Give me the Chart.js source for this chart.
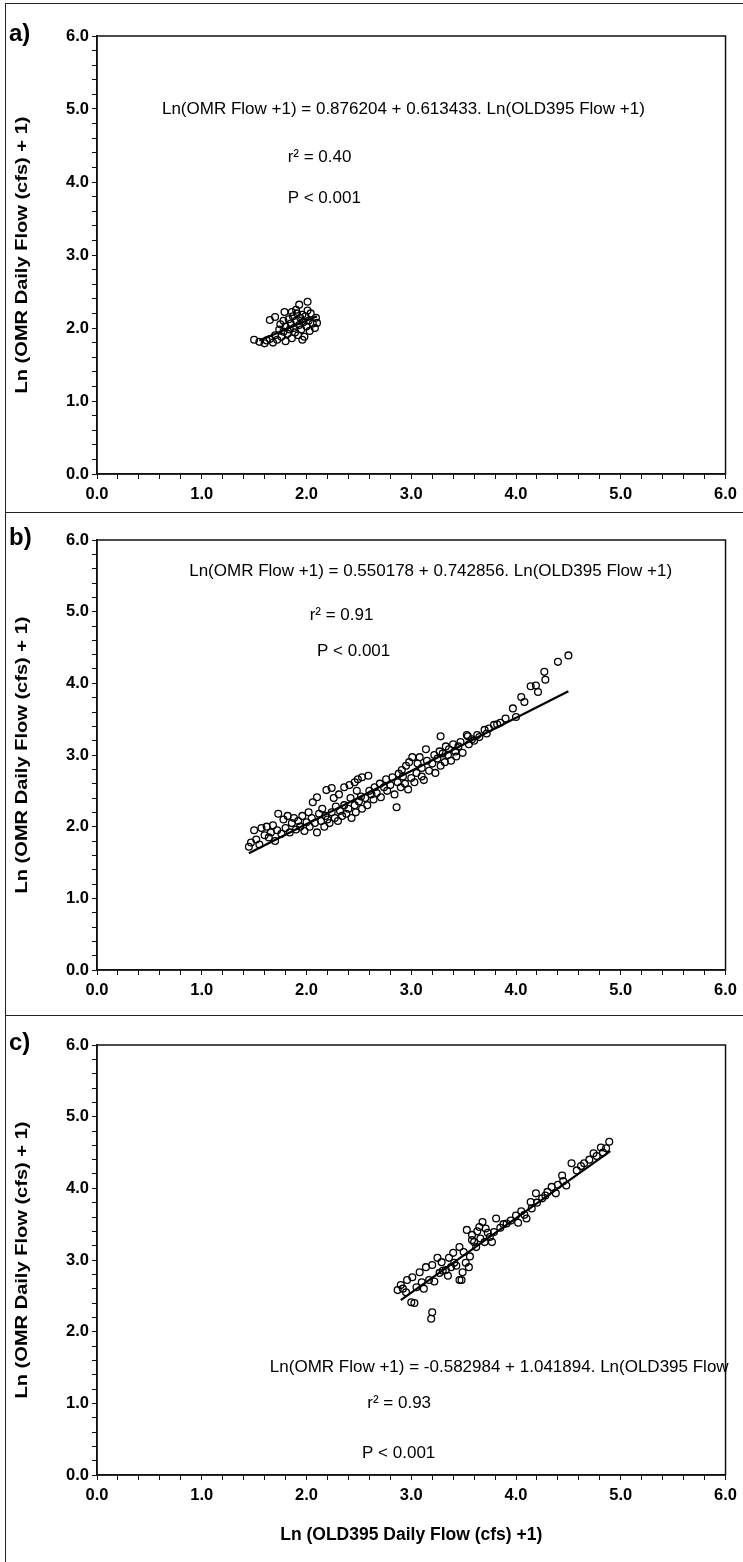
<!DOCTYPE html>
<html>
<head>
<meta charset="utf-8">
<script src="https://cdn.jsdelivr.net/npm/chart.js@4.4.0/dist/chart.umd.min.js"></script>
<style>
  html, body { margin: 0; padding: 0; background: #fff; }
  #wrap { position: relative; width: 743px; height: 1562px; }
  .panel { position: absolute; left: 0; width: 743px; }
  #frame { position: absolute; left: 5px; top: 3px; width: 738px; height: 1559px;
           border-left: 1px solid #222; border-top: 1px solid #222; pointer-events: none; }
  .sep { position: absolute; left: 5px; width: 738px; height: 0; border-top: 1px solid #222; }
</style>
</head>
<body>
<div id="wrap">
  <div class="panel" id="pa" style="top:0; height:512px;"><canvas id="chartA"></canvas></div>
  <div class="panel" id="pb" style="top:512px; height:503px;"><canvas id="chartB"></canvas></div>
  <div class="panel" id="pc" style="top:1015px; height:547px;"><canvas id="chartC"></canvas></div>
  <div id="frame"></div>
  <div class="sep" style="top:512px;"></div>
  <div class="sep" style="top:1015px;"></div>
</div>
<script>
// tick labels (majors only, minors every 0.2 carry no label)
const xTickLabels = ['0.0', '1.0', '2.0', '3.0', '4.0', '5.0', '6.0'];
const yTickLabels = ['0.0', '1.0', '2.0', '3.0', '4.0', '5.0', '6.0'];

// panel a) points  [Ln(OLD395+1), Ln(OMR+1)]
const pointsA = [
  [1.50,1.84],[1.55,1.81],[1.60,1.79],[1.62,1.83],[1.65,1.85],[1.68,1.80],[1.70,1.90],[1.72,1.84],[1.74,1.98],
  [1.75,2.05],[1.76,1.88],[1.78,1.95],[1.78,2.10],[1.80,1.82],[1.80,2.02],[1.82,1.92],[1.83,2.12],
  [1.84,1.98],[1.85,2.06],[1.86,1.86],[1.87,2.16],[1.88,2.00],[1.89,1.94],[1.90,2.10],[1.91,2.20],
  [1.92,1.90],[1.93,2.04],[1.94,2.14],[1.95,1.98],[1.96,2.18],[1.97,2.08],[1.98,1.88],[1.99,2.16],
  [2.00,2.02],[2.01,2.24],[2.02,2.10],[2.03,1.96],[2.06,2.06],[2.08,2.00],[2.10,2.07],[2.09,2.14],
  [1.65,2.11],[1.70,2.15],[1.79,2.22],[1.86,2.22],[1.90,2.25],[1.93,2.32],[2.01,2.36],[1.96,1.84],[2.04,2.20]
];
const fitA = [[1.55,1.83],[2.10,2.16]];

// panel b)
const pointsB = [
  [1.45,1.72],[1.47,1.78],[1.50,1.95],[1.52,1.82],[1.55,1.75],[1.57,1.98],[1.60,1.88],
  [1.62,2.00],[1.64,1.85],[1.66,1.92],[1.68,2.02],[1.70,1.80],[1.72,1.95],[1.73,2.18],[1.76,1.90],[1.78,2.10],[1.80,1.98],
  [1.82,2.15],[1.84,1.92],[1.86,2.05],[1.88,2.12],[1.90,1.96],[1.92,2.08],[1.94,2.00],[1.96,2.15],[1.98,1.94],[2.00,2.06],
  [2.02,2.20],[2.03,2.00],[2.05,2.12],[2.06,2.34],[2.08,2.05],[2.10,2.41],[2.10,1.92],[2.12,2.18],[2.14,2.08],[2.15,2.25],
  [2.17,2.00],[2.18,2.15],[2.19,2.51],[2.20,2.10],[2.24,2.54],
  [2.22,2.05],[2.24,2.20],[2.26,2.40],[2.27,2.12],[2.28,2.28],[2.31,2.45],[2.30,2.08],[2.32,2.22],[2.34,2.15],[2.36,2.55],
  [2.36,2.30],[2.38,2.18],[2.41,2.58],[2.40,2.25],[2.42,2.40],[2.43,2.12],[2.46,2.62],[2.46,2.30],[2.47,2.20],[2.48,2.50],
  [2.49,2.66],[2.50,2.35],[2.52,2.42],[2.53,2.25],[2.53,2.69],
  [2.59,2.71],[2.56,2.40],[2.58,2.30],[2.60,2.50],[2.62,2.45],[2.64,2.38],[2.65,2.55],[2.67,2.47],[2.70,2.60],[2.71,2.41],
  [2.74,2.55],[2.76,2.66],[2.77,2.50],[2.82,2.69],[2.80,2.58],[2.91,2.79],[2.84,2.45],[2.86,2.27],[2.87,2.62],[2.88,2.74],
  [2.90,2.55],[2.92,2.70],[2.94,2.60],[2.95,2.85],[2.97,2.52],[2.98,2.90],[3.00,2.68],
  [3.01,2.97],[3.03,2.62],[3.05,2.75],[3.06,2.88],[3.08,2.97],[3.10,2.70],[3.10,2.82],[3.12,2.65],[3.14,3.08],[3.15,2.92],
  [3.17,2.78],[3.28,3.26],[3.20,2.88],[3.22,3.00],[3.23,2.75],[3.25,2.95],[3.27,3.05],[3.28,2.85],[3.30,3.02],[3.32,2.90],
  [3.33,3.12],[3.35,3.00],[3.36,3.08],[3.38,2.92],[3.40,3.15],[3.42,3.05],[3.43,2.98],[3.45,3.12],[3.47,3.18],[3.49,3.03],
  [3.53,3.28],[3.54,3.26],[3.55,3.15],[3.58,3.22],[3.60,3.20],[3.63,3.28],[3.65,3.25],[3.70,3.35],[3.74,3.37],[3.72,3.30],
  [3.79,3.42],[3.82,3.43],[3.85,3.45],[3.90,3.51],[3.97,3.65],[4.00,3.53],
  [4.05,3.81],[4.08,3.74],[4.14,3.96],[4.19,3.97],[4.21,3.88],[4.27,4.16],[4.28,4.05],[4.40,4.30],[4.50,4.39]
];
const fitB = [[1.45,1.63],[4.50,3.89]];

// panel c)
const pointsC = [
  [4.89,4.65],[4.81,4.57],[4.86,4.56],[4.74,4.49],[4.77,4.45],[4.53,4.35],[4.62,4.31],[4.44,4.18],[4.48,4.04],[4.34,4.02],
  [4.38,3.93],[4.19,3.93],[4.25,3.86],[4.14,3.81],[4.10,3.58],[4.08,3.63],[4.15,3.72],[3.91,3.51],[3.81,3.58],[3.79,3.39],
  [3.68,3.53],[3.65,3.46],[3.71,3.44],[3.53,3.42],[3.58,3.28],[3.77,3.25],[3.46,3.18],[3.50,3.11],[3.62,3.18],[3.52,2.96],
  [3.55,2.90],[3.48,2.72],[3.36,3.03],[3.29,2.97],[3.41,2.96],[3.25,3.03],[3.20,2.93],[3.14,2.90],[3.08,2.83],[3.01,2.76],
  [2.96,2.72],[2.90,2.65],[2.87,2.58],[3.10,2.69],[3.17,2.72],[3.27,2.82],[3.00,2.41],[3.03,2.40],[3.20,2.27],[3.19,2.18],
  [3.33,2.86],[3.38,2.90],[3.46,2.72],[3.49,2.83],
  [2.92,2.60],[2.95,2.55],[3.05,2.62],[3.12,2.60],[3.22,2.70],[3.30,2.85],[3.35,2.78],[3.40,3.10],[3.43,2.92],[3.56,3.05],
  [3.58,3.35],[3.60,3.25],[3.63,3.40],[3.66,3.30],[3.70,3.25],[3.73,3.38],[3.75,3.32],[3.85,3.45],[3.88,3.50],[3.95,3.55],
  [4.00,3.62],[4.02,3.52],[4.05,3.68],[4.20,3.80],[4.28,3.90],[4.30,3.95],[4.40,4.05],[4.45,4.10],[4.58,4.25],[4.65,4.35],
  [4.70,4.40],[4.83,4.50]
];
const fitC = [[2.90,2.44],[4.90,4.52]];

const FONT = '"Liberation Sans", Arial, sans-serif';
const Y_TITLE = 'Ln (OMR Daily Flow (cfs) + 1)';

// draws plot box, panel letter, y title and the regression texts
const notesPlugin = {
  id: 'notes',
  afterDraw(chart, args, opts) {
    const ctx = chart.ctx, a = chart.chartArea;
    const xs = chart.scales.x, ys = chart.scales.y;
    ctx.save();
    ctx.strokeStyle = '#111';
    ctx.lineWidth = 1.5;
    ctx.strokeRect(a.left, a.top, a.right - a.left, a.bottom - a.top);
    ctx.fillStyle = '#000';
    ctx.font = 'bold 24px ' + FONT;
    ctx.textBaseline = 'middle';
    ctx.textAlign = 'left';
    ctx.fillText(opts.letter, 9, a.top - 2);

    // y title, a bit elongated like the scan
    ctx.save();
    ctx.translate(22, (a.top + a.bottom) / 2);
    ctx.rotate(-Math.PI / 2);
    ctx.scale(1.18, 1);
    ctx.font = 'bold 17px ' + FONT;
    ctx.textAlign = 'center';
    ctx.fillText(Y_TITLE, 0, 0);
    ctx.restore();

    ctx.font = '17px ' + FONT;
    (opts.texts || []).forEach(t => {
      ctx.textAlign = t.align || 'left';
      ctx.fillText(t.text, xs.getPixelForValue(t.x), ys.getPixelForValue(t.y));
    });
    ctx.restore();
  }
};

function makeChart(id, pts, fit, cfg) {
  const tickFont = { family: FONT, size: 16.5, weight: 'bold' };
  return new Chart(document.getElementById(id), {
    type: 'scatter',
    data: {
      datasets: [
        // fit line first so it sits on top of the circles
        {
          data: fit.map(p => ({ x: p[0], y: p[1] })),
          showLine: true,
          pointRadius: 0,
          borderColor: '#000',
          borderWidth: 2.2
        },
        {
          data: pts.map(p => ({ x: p[0], y: p[1] })),
          pointRadius: 3.4,
          pointBorderWidth: 1.3,
          pointBorderColor: '#000',
          pointBackgroundColor: 'rgba(255,255,255,0)'
        }
      ]
    },
    options: {
      responsive: true,
      maintainAspectRatio: false,
      animation: false,
      layout: { padding: { top: cfg.top, right: 15, left: 0, bottom: 0 } },
      plugins: {
        legend: { display: false },
        tooltip: { enabled: false },
        notes: { letter: cfg.letter, texts: cfg.texts }
      },
      scales: {
        x: {
          type: 'linear', min: 0, max: 6,
          afterFit: s => { s.height = cfg.xHeight; },
          grid: { drawOnChartArea: false, color: '#111', tickLength: 5 },
          border: { color: '#111', width: 1.5 },
          ticks: {
            stepSize: 0.2, autoSkip: false, maxRotation: 0, padding: 6,
            color: '#000', font: tickFont,
            callback: v => {
              const i = Math.round(v);
              return Math.abs(v - i) < 1e-6 ? xTickLabels[i] : '';
            }
          },
          title: {
            display: !!cfg.xTitle, text: cfg.xTitle || '', color: '#000',
            font: { family: FONT, size: 17.5, weight: 'bold' }, padding: { top: 4, bottom: 16 }
          }
        },
        y: {
          type: 'linear', min: 0, max: 6,
          afterFit: s => { s.width = 97; },
          grid: { drawOnChartArea: false, color: '#111', tickLength: 5 },
          border: { color: '#111', width: 1.5 },
          ticks: {
            stepSize: 0.2, autoSkip: false, padding: 3,
            color: '#000', font: tickFont,
            callback: v => {
              const i = Math.round(v);
              return Math.abs(v - i) < 1e-6 ? yTickLabels[i] : '';
            }
          }
        }
      }
    },
    plugins: [notesPlugin]
  });
}

makeChart('chartA', pointsA, fitA, {
  letter: 'a)', top: 36, xHeight: 38,
  texts: [
    { x: 0.62, y: 5.0, text: 'Ln(OMR Flow +1) = 0.876204 + 0.613433. Ln(OLD395 Flow +1)' },
    { x: 1.82, y: 4.34, text: 'r\u00B2 = 0.40' },
    { x: 1.82, y: 3.78, text: 'P < 0.001' }
  ]
});

makeChart('chartB', pointsB, fitB, {
  letter: 'b)', top: 28, xHeight: 45,
  texts: [
    { x: 0.88, y: 5.56, text: 'Ln(OMR Flow +1) = 0.550178 + 0.742856. Ln(OLD395 Flow +1)' },
    { x: 2.03, y: 4.95, text: 'r\u00B2 = 0.91' },
    { x: 2.1, y: 4.44, text: 'P < 0.001' }
  ]
});

makeChart('chartC', pointsC, fitC, {
  letter: 'c)', top: 30, xHeight: 87,
  xTitle: 'Ln (OLD395 Daily Flow (cfs) +1)',
  texts: [
    { x: 1.65, y: 1.5, text: 'Ln(OMR Flow +1) = -0.582984 + 1.041894. Ln(OLD395 Flow' },
    { x: 2.58, y: 1.0, text: 'r\u00B2 = 0.93' },
    { x: 2.53, y: 0.3, text: 'P < 0.001' }
  ]
});
</script>
</body>
</html>
